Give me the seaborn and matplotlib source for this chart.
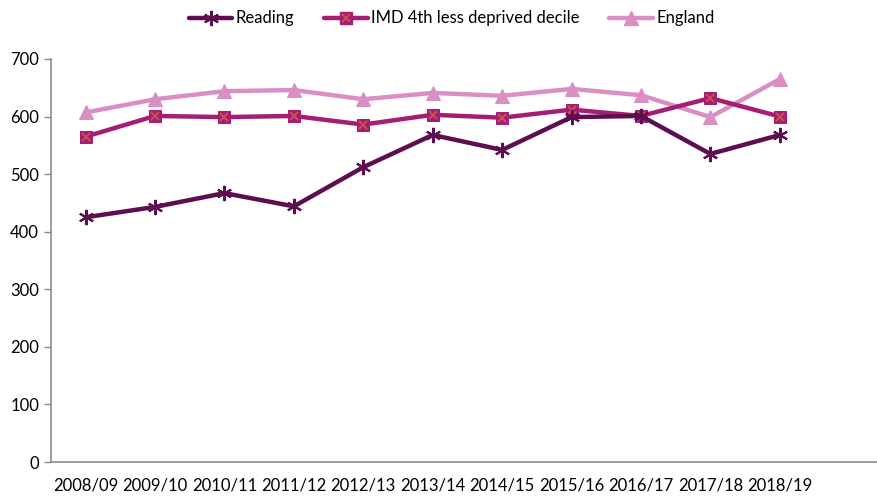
import pandas as pd
import matplotlib.pyplot as plt
import seaborn as sns
from matplotlib.ticker import FixedLocator
from matplotlib.legend_handler import HandlerTuple
from matplotlib.lines import Line2D

# valores
periodos = ["2008/09", "2009/10", "2010/11", "2011/12", "2012/13", "2013/14",
            "2014/15", "2015/16", "2016/17", "2017/18", "2018/19"]
reading = [425, 443, 467, 444, 512, 568, 542, 599, 601, 535, 568]
imd = [565, 601, 599, 601, 586, 603, 598, 612, 601, 632, 600]
england = [607, 630, 644, 646, 630, 641, 636, 648, 637, 599, 665]

df = pd.DataFrame({"periodo": periodos, "Reading": reading,
                   "IMD 4th less deprived decile": imd, "England": england})

sns.set_style("white")
plt.rcParams["font.family"] = ["Lato", "DejaVu Sans"]
plt.rcParams["text.color"] = "black"
plt.rcParams["xtick.color"] = "black"
plt.rcParams["ytick.color"] = "black"

fig = plt.figure(figsize=(8.77, 4.97), dpi=100)
ax = fig.add_axes([0.058, 0.0704, 0.942, 0.811])

c_read = "#5E0D50"
c_imd = "#A61E74"
c_eng = "#D98FC4"
c_x = "#C8584A"

sns.lineplot(data=df, x="periodo", y="England", ax=ax, color=c_eng, lw=3.2,
             marker="^", markersize=10, markeredgecolor=c_eng, sort=False)
sns.lineplot(data=df, x="periodo", y="IMD 4th less deprived decile", ax=ax, color=c_imd,
             lw=3.2, marker="s", markersize=9, markeredgecolor=c_imd, sort=False)
sns.lineplot(data=df, x="periodo", y="IMD 4th less deprived decile", ax=ax, color=c_x,
             lw=0, marker="x", markersize=6, markeredgewidth=1.3, markeredgecolor=c_x,
             sort=False)
sns.lineplot(data=df, x="periodo", y="Reading", ax=ax, color=c_read, lw=3.2,
             marker=(6, 2, 0), markersize=11, markeredgewidth=1.5,
             markeredgecolor=c_read, sort=False)

ax.set_ylim(0, 700)
ax.set_yticks(range(0, 701, 100))
ax.set_xlim(-0.5, 11.4)
ax.set_xticks(range(len(periodos)))
ax.set_xticklabels(periodos)
ax.xaxis.set_minor_locator(FixedLocator([i - 0.5 for i in range(len(periodos) + 1)]))
ax.tick_params(axis="x", which="major", length=0, labelsize=12, pad=11)
ax.tick_params(axis="x", which="minor", length=5, color="#8C8C8C", width=1)
ax.tick_params(axis="y", length=5, color="#8C8C8C", width=1, labelsize=12, left=True)
ax.set_xlabel("")
ax.set_ylabel("")
sns.despine(ax=ax)
for s in ["left", "bottom"]:
    ax.spines[s].set_color("#8C8C8C")
    ax.spines[s].set_linewidth(1.2)

h_read = Line2D([], [], color=c_read, lw=3.2, marker=(6, 2, 0), markersize=11,
                markeredgewidth=1.5, markeredgecolor=c_read)
h_sq = Line2D([], [], color=c_imd, lw=3.2, marker="s", markersize=9, markeredgecolor=c_imd)
h_x = Line2D([], [], color=c_x, lw=0, marker="x", markersize=6, markeredgewidth=1.3)
h_eng = Line2D([], [], color=c_eng, lw=3.2, marker="^", markersize=10, markeredgecolor=c_eng)
fig.legend([h_read, (h_sq, h_x), h_eng],
           ["Reading", "IMD 4th less deprived decile", "England"],
           handler_map={tuple: HandlerTuple(ndivide=1)},
           loc="center", bbox_to_anchor=(0.515, 0.963), ncol=3, frameon=False,
           fontsize=12, handlelength=2.6, handletextpad=0.2, columnspacing=1.8)

plt.savefig("out.png", dpi=100)
